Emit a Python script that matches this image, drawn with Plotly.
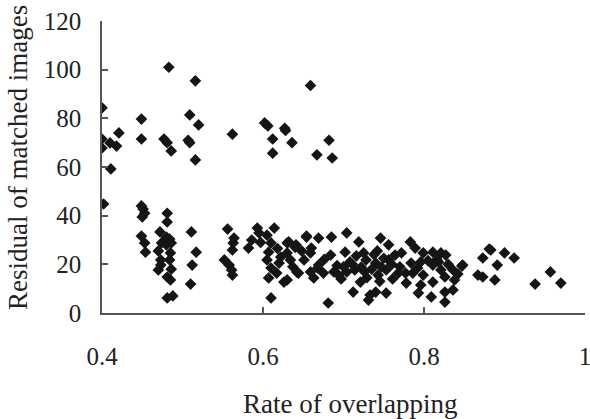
import plotly.graph_objects as go

# Rate of overlapping (x) and residual of matched images (y)
rate_upper = [0.400, 0.400, 0.400, 0.411, 0.410, 0.418, 0.421, 0.449, 0.449, 0.483,
              0.477, 0.481, 0.486, 0.516, 0.509, 0.507, 0.509, 0.520, 0.516, 0.562,
              0.602, 0.606, 0.612, 0.612, 0.627, 0.628, 0.636, 0.659, 0.667, 0.682,
              0.686]
resid_upper = [84.3, 71.5, 67.8, 59.2, 69.9, 68.6, 74.0, 79.7, 71.5, 101.0,
               71.5, 70.0, 66.6, 95.4, 81.4, 71.0, 70.0, 77.3, 62.9, 73.5,
               78.1, 76.9, 71.5, 65.7, 75.9, 75.0, 70.0, 93.5, 65.0, 71.0,
               63.7]

rate_lower = [0.402, 0.449, 0.451, 0.453, 0.450, 0.449, 0.453, 0.454, 0.481, 0.481,
              0.472, 0.480, 0.484, 0.474, 0.480, 0.486, 0.470, 0.485, 0.484, 0.473,
              0.473, 0.470, 0.486, 0.481, 0.485, 0.481, 0.488, 0.511, 0.517, 0.512,
              0.510,
              0.556, 0.564, 0.563, 0.562, 0.552, 0.558, 0.562, 0.561, 0.593, 0.586,
              0.582, 0.595, 0.614, 0.605, 0.610, 0.607, 0.605, 0.610, 0.607, 0.620,
              0.617, 0.630, 0.641, 0.630, 0.634, 0.642, 0.626, 0.630, 0.610, 0.632,
              0.654, 0.651,
              0.654, 0.669, 0.685, 0.704, 0.719, 0.746, 0.756, 0.660, 0.659, 0.684,
              0.702, 0.725, 0.728, 0.740, 0.747, 0.756, 0.764, 0.722, 0.669, 0.659,
              0.675, 0.688, 0.694, 0.704, 0.714, 0.721, 0.743, 0.753, 0.768, 0.712,
              0.733, 0.740, 0.753, 0.731, 0.681, 0.663, 0.644,
              0.783, 0.789, 0.772, 0.799, 0.811, 0.821, 0.827, 0.796, 0.784, 0.811,
              0.821, 0.836, 0.848, 0.777, 0.786, 0.799, 0.811, 0.826, 0.838, 0.778,
              0.796, 0.793, 0.809, 0.826, 0.836, 0.826, 0.867, 0.873, 0.888, 0.873,
              0.883, 0.891, 0.900,
              0.881, 0.912, 0.957, 0.970, 0.938, 0.847,
              0.622, 0.637, 0.648, 0.676, 0.692, 0.708, 0.716, 0.735, 0.750, 0.760,
              0.697, 0.711, 0.738, 0.729, 0.745, 0.770, 0.805, 0.816, 0.830, 0.618,
              0.597, 0.640, 0.668, 0.700, 0.726, 0.742, 0.761, 0.792, 0.818, 0.842]
resid_lower = [44.8, 44.0, 42.7, 41.0, 39.5, 31.6, 28.8, 25.0, 41.0, 37.4,
               33.3, 31.2, 30.4, 28.8, 28.0, 28.8, 25.5, 24.7, 21.8, 21.8,
               19.7, 17.7, 18.0, 14.8, 13.6, 6.2, 7.0, 33.3, 25.0, 19.7,
               11.9,
               34.5, 30.8, 28.8, 25.9, 21.8, 19.7, 15.6, 17.7, 34.9, 30.0,
               26.7, 32.9, 34.9, 32.0, 28.8, 25.0, 21.8, 18.5, 14.4, 20.5,
               16.4, 28.8, 28.0, 24.7, 21.8, 16.9, 12.7, 13.6, 6.2, 29.2,
               31.2, 21.8,
               31.6, 30.8, 31.2, 32.9, 29.2, 30.8, 28.0, 26.7, 24.7, 23.8,
               25.0, 24.7, 21.8, 20.5, 18.9, 21.8, 23.8, 18.9, 19.7, 16.9,
               16.4, 16.9, 15.6, 16.9, 17.7, 12.7, 15.6, 17.7, 16.4, 8.6,
               7.4, 8.6, 8.2, 5.3, 4.1, 14.4, 16.4,
               29.2, 26.7, 24.7, 24.7, 25.0, 24.7, 23.8, 21.0, 20.5, 19.7,
               17.7, 17.7, 19.7, 16.4, 16.4, 15.6, 12.7, 14.8, 13.6, 12.3,
               11.5, 8.2, 6.6, 8.6, 9.5, 4.5, 15.6, 14.8, 13.6, 22.6,
               25.9, 19.7, 24.7,
               26.3, 22.6, 16.9, 12.3, 11.9, 19.3,
               23.0, 19.0, 25.5, 22.0, 19.5, 21.0, 23.5, 18.0, 22.5, 20.0,
               14.0, 20.0, 24.0, 14.5, 13.0, 19.0, 21.5, 22.0, 20.0, 26.5,
               29.0, 27.0, 18.5, 19.0, 17.0, 25.5, 14.0, 18.5, 21.0, 16.0]

x_vals = rate_upper + rate_lower
y_vals = resid_upper + resid_lower

x_ticks = [0.4, 0.6, 0.8, 1.0]
x_tick_text = ["0.4", "0.6", "0.8", "1"]
y_ticks = [0, 20, 40, 60, 80, 100, 120]

FONT = "Liberation Serif"

fig = go.Figure(go.Scatter(
    x=x_vals, y=y_vals, mode="markers",
    marker=dict(symbol="diamond", size=9, color="#151515", line=dict(width=0)),
    hoverinfo="x+y",
))

L, R, T, B = 102, 5, 21, 106
W, H = 590, 419
pw, ph = W - L - R, H - T - B

fig.update_layout(
    width=W, height=H,
    margin=dict(l=L, r=R, t=T, b=B, autoexpand=False),
    paper_bgcolor="white", plot_bgcolor="white",
    showlegend=False,
    font=dict(family=FONT, size=25, color="#222"),
    xaxis=dict(
        range=[0.4, 1.0], tickvals=x_ticks, ticktext=x_tick_text, automargin=False,
        showgrid=False, zeroline=False, showline=True, linecolor="#555", linewidth=1.5,
        ticks="inside", ticklen=6, tickcolor="#555", tickwidth=1.5,
        ticklabelstandoff=20, ticklabeloverflow="allow",
        tickfont=dict(family=FONT, size=25, color="#222"),
    ),
    yaxis=dict(
        range=[0, 120], tickvals=y_ticks, automargin=False,
        showgrid=False, zeroline=False, showline=True, linecolor="#555", linewidth=1.5,
        ticks="inside", ticklen=6, tickcolor="#555", tickwidth=1.5,
        ticklabelstandoff=14, tickfont=dict(family=FONT, size=25, color="#222"),
    ),
    annotations=[
        dict(text="Rate of overlapping", xref="paper", yref="paper",
             x=(350 - L) / pw, y=-(404 - (T + ph)) / ph,
             xanchor="center", yanchor="middle", showarrow=False,
             font=dict(family=FONT, size=27, color="#222")),
        dict(text="Residual of matched images", xref="paper", yref="paper",
             x=-(L - 18) / pw, y=((T + ph) - 158) / ph,
             xanchor="center", yanchor="middle", textangle=-90, showarrow=False,
             font=dict(family=FONT, size=27, color="#222")),
    ],
)

fig.write_html(
    "out.html",
    config={"displayModeBar": False},
    post_script="document.body.style.margin='0';document.body.style.overflow='hidden';",
)
